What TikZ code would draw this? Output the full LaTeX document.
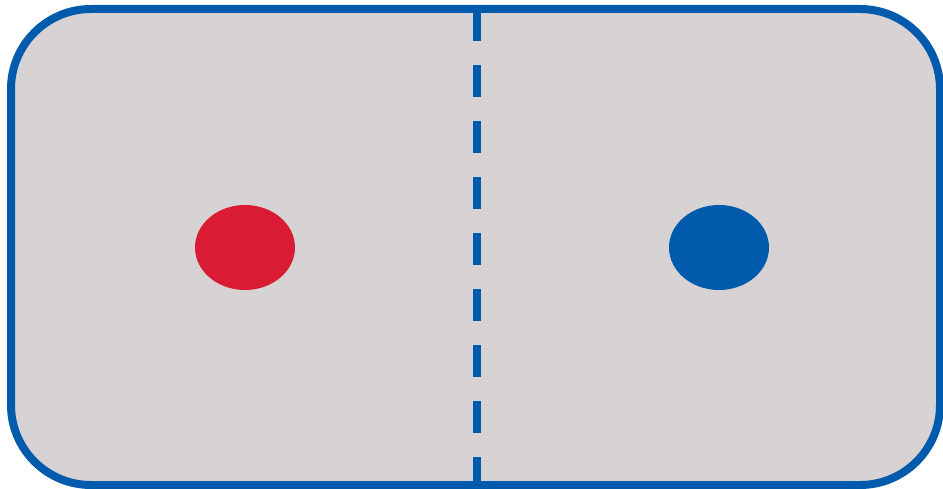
\documentclass[tikz,border=0pt]{standalone}
\usetikzlibrary{shapes.geometric}
\definecolor{rinkgray}{HTML}{D7D2D3}
\definecolor{rinkblue}{HTML}{005BAC}
\definecolor{rinkred}{HTML}{D91C33}
\tikzset{
  dot/.style={ellipse, inner sep=0pt, minimum width=100pt, minimum height=85pt, draw=none},
  border/.style={draw=rinkblue, line width=8pt, rounded corners=80pt},
}
\begin{document}
\begin{tikzpicture}[x=1pt,y=-1pt]
\useasboundingbox (0,0) rectangle (943,489);
\fill[rinkgray, rounded corners=80pt] (11,9) rectangle (940,485);
\coordinate (top) at (477,9);
\coordinate (bot) at (477,485);
\draw[rinkblue, line width=8pt, dash pattern=on 32pt off 24pt] (top) -- (bot);
\draw[border] (11,9) rectangle (940,485);
\node[dot, fill=rinkred] (red) at (245,247.5) {};
\node[dot, fill=rinkblue] (blue) at (719,247.5) {};
\end{tikzpicture}
\end{document}
